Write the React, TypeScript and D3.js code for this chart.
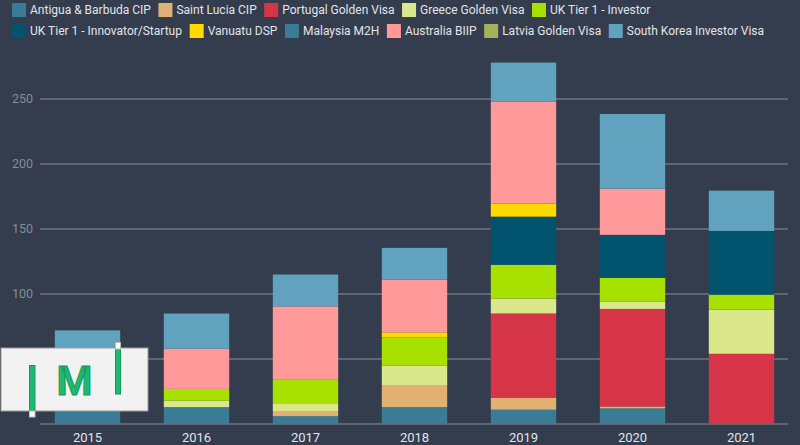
import React from 'react';
import * as d3 from 'd3';

const years = ['2015', '2016', '2017', '2018', '2019', '2020', '2021'];
const programs = [
  'Antigua & Barbuda CIP',
  'Saint Lucia CIP',
  'Portugal Golden Visa',
  'Greece Golden Visa',
  'UK Tier 1 - Investor',
  'UK Tier 1 - Innovator/Startup',
  'Vanuatu DSP',
  'Malaysia M2H',
  'Australia BIIP',
  'Latvia Golden Visa',
  'South Korea Investor Visa',
];
const colors = ['#3A7C95', '#E0B173', '#D63447', '#DBE78B', '#A8E000', '#02546E', '#FFD900', '#3A7C95', '#FF999A', '#A3B258', '#61A2BF'];

const antigua = [35, 13, 6, 13, 11, 12, 0];
const saintLucia = [0, 0, 4, 17, 9, 1.5, 0];
const portugal = [0, 0, 0, 0, 65, 75, 54];
const greece = [0, 5, 6, 15, 11.5, 5.5, 34];
const ukInvestor = [0, 9, 18.5, 21.5, 26, 18.5, 11.5];
const ukInnovator = [0, 0, 0, 0, 37, 33, 49];
const vanuatu = [0, 0, 0, 4, 10, 0, 0];
const malaysia = [0, 0, 0, 0, 0, 0, 0];
const australia = [0, 31, 56, 40.5, 78.5, 35.5, 0];
const latvia = [0, 0, 0, 0, 0, 0, 0];
const southKorea = [37, 27, 24.5, 24.5, 30, 57.5, 31];

const yTicks = [50, 100, 150, 200, 250];

const seriesValues = [antigua, saintLucia, portugal, greece, ukInvestor, ukInnovator, vanuatu, malaysia, australia, latvia, southKorea];

const W = 800;
const H = 445;
const FONT = 'Roboto, "Noto Sans", sans-serif';
const LEGEND_SIZE = 12;

function measure(text: string, size: number) {
  const c = document.createElement('canvas');
  const ctx = c.getContext('2d');
  if (!ctx) return text.length * size * 0.5;
  ctx.font = `${size}px Roboto`;
  return ctx.measureText(text).width;
}

export default function App() {
  const rows = years.map((yr, i) => {
    const r: any = { year: yr };
    programs.forEach((p, j) => (r[p] = seriesValues[j][i]));
    return r;
  });
  const stacked = d3.stack<any>().keys(programs)(rows);

  const x = d3.scaleBand().domain(years).range([33, 796]).paddingInner(0.4).paddingOuter(0.2);
  const y = d3.scaleLinear().domain([0, 250]).range([424, 99]);

  // legend layout (wrapping rows)
  const legendItems: { name: string; color: string; x: number; y: number }[] = [];
  let lx = 12;
  let ly = 3;
  programs.forEach((p, i) => {
    const w = 18 + measure(p, LEGEND_SIZE);
    if (lx + w > 790) {
      lx = 12;
      ly += 21;
    }
    legendItems.push({ name: p, color: colors[i], x: lx, y: ly });
    lx += w + 7.5;
  });

  return (
    <svg width={W} height={H} style={{ position: 'absolute', left: 0, top: 0, background: '#333D4E' }} fontFamily={FONT}>
      <rect x={0} y={0} width={W} height={H} fill="#333D4E" />
      {legendItems.map((it) => (
        <g key={it.name}>
          <rect x={it.x} y={it.y} width={14} height={14} fill={it.color} />
          <text x={it.x + 18} y={it.y + 7} dy="0.35em" fontSize={LEGEND_SIZE} fill="#E2E4E8">
            {it.name}
          </text>
        </g>
      ))}
      {[0, ...yTicks].map((t) => (
        <line key={t} x1={40} x2={788} y1={y(t)} y2={y(t)} stroke="#8C8F96" strokeWidth={1} />
      ))}
      {yTicks.map((t) => (
        <text key={t} x={33} y={y(t)} dy="0.35em" textAnchor="end" fontSize={12.5} fill="#868B94">
          {t}
        </text>
      ))}
      {stacked.map((s, i) => (
        <g key={s.key} fill={colors[i]}>
          {s.map((d, k) =>
            d[1] - d[0] > 0 ? (
              <rect key={k} x={x(years[k])} width={x.bandwidth()} y={y(d[1])} height={y(d[0]) - y(d[1])} />
            ) : null
          )}
        </g>
      ))}
      {years.map((yr) => (
        <text key={yr} x={(x(yr) || 0) + x.bandwidth() / 2} y={437} dy="0.35em" textAnchor="middle" fontSize={13} fill="#E2E4E8">
          {yr}
        </text>
      ))}
      {/* watermark logo */}
      <g>
        <rect x={1} y={348} width={147} height={63} fill="#F2F2F2" stroke="#9A9A9A" strokeWidth={1} />
        <rect x={29.5} y={365.5} width={5.5} height={45} fill="#1EB874" stroke="#139A5A" strokeWidth={1} />
        <rect x={29.5} y={411} width={5.5} height={6} fill="#FFFFFF" stroke="#BBBBBB" strokeWidth={1} />
        <text x={74.5} y={395} textAnchor="middle" fontSize={41} fontWeight="bold" fill="#1EB874" stroke="#139A5A" strokeWidth={1} fontFamily={FONT}>
          M
        </text>
        <rect x={115.5} y={349} width={5} height={45} fill="#1EB874" stroke="#139A5A" strokeWidth={1} />
        <rect x={115.5} y={342.5} width={5} height={6.5} fill="#FFFFFF" stroke="#BBBBBB" strokeWidth={1} />
      </g>
    </svg>
  );
}
